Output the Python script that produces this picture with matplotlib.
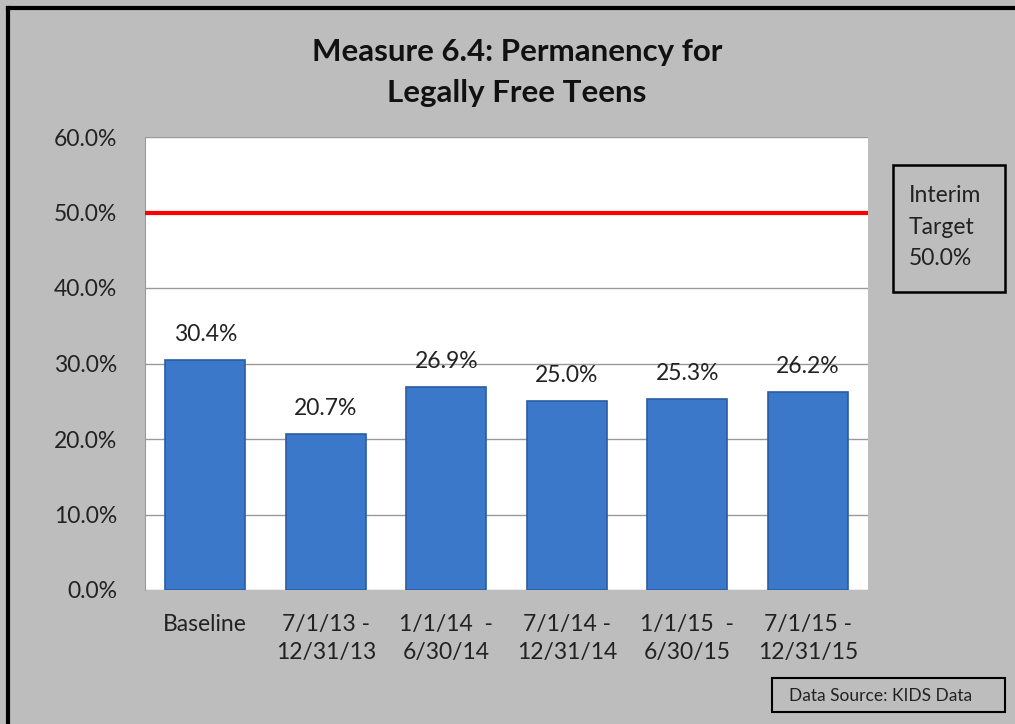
import matplotlib
matplotlib.use("Agg")
import matplotlib.pyplot as plt
from matplotlib.patches import Rectangle
from matplotlib.lines import Line2D

categories = ["Baseline", "7/1/13 -\n12/31/13", "1/1/14  -\n6/30/14", "7/1/14 -\n12/31/14",
              "1/1/15  -\n6/30/15", "7/1/15 -\n12/31/15"]
values = [30.4, 20.7, 26.9, 25.0, 25.3, 26.2]
target = 50.0
yticks = [0, 10, 20, 30, 40, 50, 60]

plt.rcParams['font.family'] = ['Lato', 'DejaVu Sans']

W, H = 1015, 724
fig = plt.figure(figsize=(W / 100, H / 100), dpi=100)
bg = '#bdbdbd'
fig.patch.set_facecolor(bg)

ax = fig.add_axes([145 / W, 1 - 590 / H, (868 - 145) / W, (590 - 137) / H])
ax.set_facecolor('white')
x = list(range(len(categories)))
bars = ax.bar(x, values, width=0.66, color='#3b78c9', edgecolor='#2a5da3', linewidth=1.2, zorder=3)
for xi, v in zip(x, values):
    ax.text(xi, v + 2.0, f"{v:.1f}%", ha='center', va='bottom', fontsize=16.5, color='#222222', zorder=4)

ax.axhline(target, color='#ff0000', lw=3, zorder=4)

ax.set_xlim(-0.5, len(categories) - 0.5)
ax.set_ylim(0, 60)
ax.set_yticks(yticks)
ax.set_yticklabels([f"{t:.1f}%" for t in yticks], fontsize=16.5, color='#222222')
ax.set_xticks(x)
ax.set_xticklabels(categories, fontsize=16.5, color='#222222', linespacing=1.45)
ax.tick_params(axis='y', length=0, pad=20)
ax.tick_params(axis='x', length=0, pad=17)
ax.yaxis.grid(True, color='#9a9a9a', lw=1, zorder=0)
for s in ['top', 'right', 'bottom']:
    ax.spines[s].set_visible(False)
ax.spines['left'].set_color('#9a9a9a')

fig.text(517 / W, 1 - 52 / H, "Measure 6.4: Permanency for", ha='center', va='center',
         fontsize=22.5, fontweight='bold', color='#111111')
fig.text(517 / W, 1 - 93 / H, "Legally Free Teens", ha='center', va='center',
         fontsize=22.5, fontweight='bold', color='#111111')

# Interim target box
fig.patches.append(Rectangle((893 / W, 1 - 292 / H), (1005 - 893) / W, (292 - 165) / H,
                             transform=fig.transFigure, fill=False, edgecolor='black', lw=1.8))
fig.text(909 / W, 1 - 227 / H, "Interim\nTarget\n50.0%", ha='left', va='center',
         fontsize=16.5, color='#222222', linespacing=1.6)

# Data source box
fig.patches.append(Rectangle((772 / W, 1 - 712 / H), (1005 - 772) / W, (712 - 678) / H,
                             transform=fig.transFigure, fill=False, edgecolor='black', lw=1.5))
fig.text(789 / W, 1 - 696 / H, "Data Source: KIDS Data", ha='left', va='center',
         fontsize=12.5, color='#222222')

# outer border (left and top)
fig.lines.append(Line2D([8 / W, 8 / W], [0, 1 - 8 / H], transform=fig.transFigure, color='black', lw=3))
fig.lines.append(Line2D([8 / W, 1], [1 - 8 / H, 1 - 8 / H], transform=fig.transFigure, color='black', lw=3))

fig.savefig("out.png", dpi=100, facecolor=bg)
